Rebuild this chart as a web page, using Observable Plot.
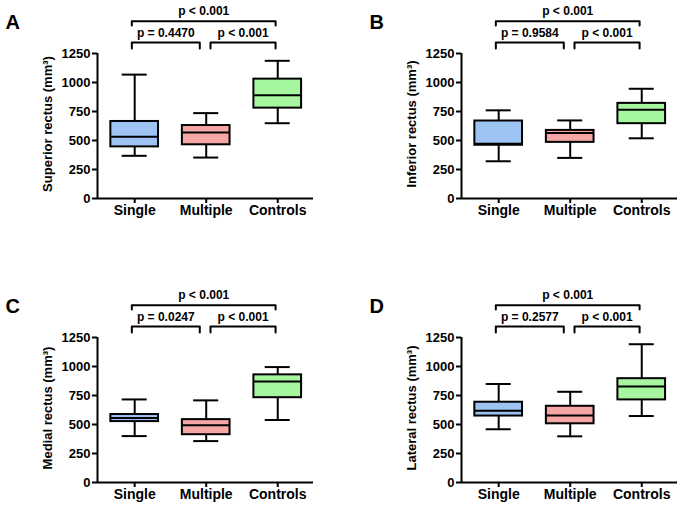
<!DOCTYPE html>
<html>
<head>
<meta charset="utf-8">
<script src="https://cdn.jsdelivr.net/npm/d3@7"></script>
<script src="https://cdn.jsdelivr.net/npm/@observablehq/plot@0.6"></script>
<style>
  html, body { margin: 0; padding: 0; background: #fff; overflow: hidden; }
  #wrap { position: relative; width: 685px; height: 507px; font-family: "Liberation Sans", Arial, sans-serif; }
  .panel { position: absolute; }
  .panel svg { overflow: visible; }
</style>
</head>
<body>
<div id="wrap"></div>
<script>
// ---- data ----
const groups = ["Single", "Multiple", "Controls"];
const groupColors = ["#9dc3f3", "#f7a6a6", "#a6f59f"];
const panelLetters = ["A", "B", "C", "D"];
const muscleLabels = ["Superior rectus (mm³)", "Inferior rectus (mm³)", "Medial rectus (mm³)", "Lateral rectus (mm³)"];
const yTicks = [0, 250, 500, 750, 1000, 1250];

// [whisker low, Q1, median, Q3, whisker high] for Single, Multiple, Controls
const superiorStats = [[368, 445, 532, 664, 1068], [353, 463, 569, 629, 736], [649, 779, 891, 1029, 1187]];
const inferiorStats = [[321, 459, 473, 668, 760], [350, 484, 565, 587, 673], [519, 645, 765, 820, 946]];
const medialStats   = [[400, 525, 556, 586, 716], [357, 412, 493, 542, 708], [539, 731, 870, 928, 995]];
const lateralStats  = [[459, 573, 619, 692, 849], [398, 506, 578, 657, 782], [573, 712, 828, 895, 1192]];

const pSingleMultiple   = ["p = 0.4470", "p = 0.9584", "p = 0.0247", "p = 0.2577"];
const pMultipleControls = ["p < 0.001", "p < 0.001", "p < 0.001", "p < 0.001"];
const pSingleControls   = ["p < 0.001", "p < 0.001", "p < 0.001", "p < 0.001"];

const allStats = [superiorStats, inferiorStats, medialStats, lateralStats];

// ---- layout ----
const panelPos = [[0, 0], [364, 0], [0, 284], [364, 284]];
const xDomain = [-0.52, 2.5];
const boxHalf = 1 / 3;
const capHalf = 0.175;
// bracket levels (in y units, above the plotting range, as in the original figure)
const lowBar = 1345, lowEnd = 1293, lowText = 1425;
const topBar = 1528, topEnd = 1491, topText = 1616;

const wrap = document.getElementById("wrap");

allStats.forEach((stats, p) => {
  const rows = stats.map((s, i) => ({
    group: groups[i], i, low: s[0], q1: s[1], median: s[2], q3: s[3], high: s[4]
  }));

  const comparisons = [
    {label: pSingleMultiple[p],   a: -0.04, b: 0.91, bar: lowBar, end: lowEnd, text: lowText},
    {label: pMultipleControls[p], a: 1.06,  b: 1.97, bar: lowBar, end: lowEnd, text: lowText},
    {label: pSingleControls[p],   a: -0.04, b: 1.97, bar: topBar, end: topEnd, text: topText}
  ];
  const bracketPts = comparisons.flatMap((c, k) => [
    {k, x: c.a, y: c.end}, {k, x: c.a, y: c.bar}, {k, x: c.b, y: c.bar}, {k, x: c.b, y: c.end}
  ]);

  const chart = Plot.plot({
    width: 320,
    height: 223,
    marginLeft: 97,
    marginRight: 7,
    marginTop: 53,
    marginBottom: 25,
    style: {fontFamily: "'Liberation Sans', Arial, sans-serif", color: "#000", background: "transparent"},
    x: {domain: xDomain, axis: null},
    y: {domain: [0, 1250], axis: null},
    color: {domain: groups, range: groupColors},
    marks: [
      Plot.axisY(yTicks, {tickSize: 5, tickPadding: 2, strokeWidth: 2, fontSize: 13, fontWeight: "bold", label: null, tickFormat: d => String(d)}),
      Plot.axisX([0, 1, 2], {tickFormat: i => groups[i], tickSize: 5, tickPadding: 2, strokeWidth: 2, fontSize: 14, fontWeight: "bold", label: null}),
      Plot.ruleY([0], {strokeWidth: 2}),
      Plot.ruleX([xDomain[0]], {y1: 0, y2: 1250, strokeWidth: 2}),
      // whiskers
      Plot.ruleX(rows, {x: "i", y1: "low", y2: "high", strokeWidth: 2}),
      Plot.ruleY(rows, {y: "low", x1: d => d.i - capHalf, x2: d => d.i + capHalf, strokeWidth: 2}),
      Plot.ruleY(rows, {y: "high", x1: d => d.i - capHalf, x2: d => d.i + capHalf, strokeWidth: 2}),
      // boxes
      Plot.rect(rows, {x1: d => d.i - boxHalf, x2: d => d.i + boxHalf, y1: "q1", y2: "q3", fill: "group", stroke: "#000", strokeWidth: 2}),
      Plot.ruleY(rows, {y: "median", x1: d => d.i - boxHalf, x2: d => d.i + boxHalf, strokeWidth: 2}),
      // brackets
      Plot.line(bracketPts, {x: "x", y: "y", z: "k", stroke: "#000", strokeWidth: 2, curve: "linear"}),
      Plot.text(comparisons, {x: d => (d.a + d.b) / 2, y: "text", text: "label", fontSize: 12, fontWeight: "bold", fill: "#000"}),
      // y axis title
      Plot.text([muscleLabels[p]], {frameAnchor: "left", textAnchor: "middle", lineAnchor: "middle", rotate: -90, dx: -50, dy: -2, fontSize: 13, fontWeight: "bold", fill: "#000"}),
      // panel letter
      Plot.text([panelLetters[p]], {frameAnchor: "top-left", textAnchor: "start", lineAnchor: "middle", dx: -92, dy: -31, fontSize: 20, fontWeight: "bold", fill: "#000"})
    ]
  });
  const div = document.createElement("div");
  div.className = "panel";
  div.style.left = panelPos[p][0] + "px";
  div.style.top = panelPos[p][1] + "px";
  div.appendChild(chart);
  wrap.appendChild(div);
});
</script>
</body>
</html>
